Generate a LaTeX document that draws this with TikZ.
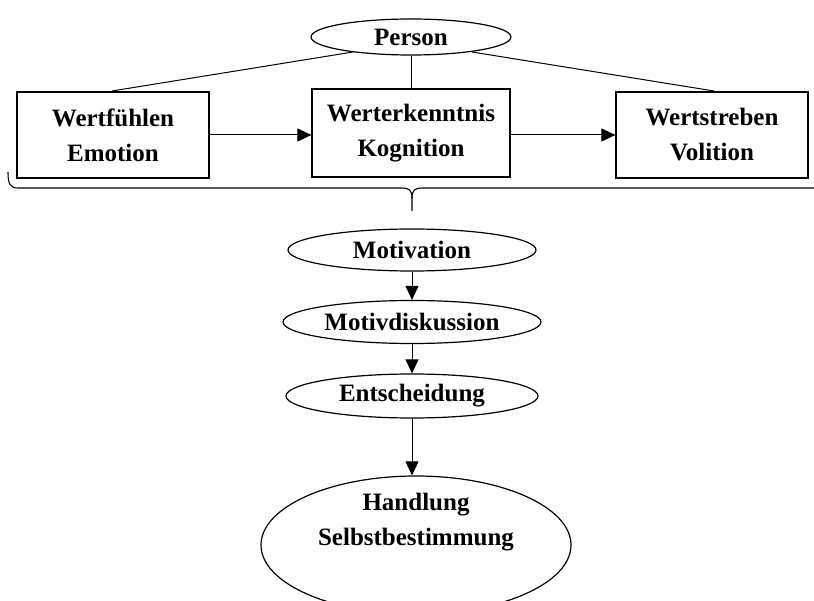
\documentclass[tikz,border=0pt]{standalone}
\usepackage{fontspec}
\setmainfont{Liberation Serif}
\usetikzlibrary{shapes.geometric,arrows.meta}
\begin{document}
\begin{tikzpicture}[x=1pt,y=-1pt,
  every node/.style={font=\bfseries\fontsize{25}{35}\selectfont, align=center, line width=1.2pt},
  oval/.style={draw, ellipse, inner sep=0pt},
  box/.style={draw, rectangle, inner sep=0pt},
  conn/.style={line width=1pt},
  arr/.style={line width=1pt, -{Triangle[length=14pt,width=13pt]}}]
\useasboundingbox (0,0) rectangle (814,601);
\node[oval, minimum width=200pt, minimum height=36pt] (person) at (411,37) {Person};
\node[box, minimum width=192pt, minimum height=86pt] (wf) at (113,135) {Wertfühlen\\Emotion};
\node[box, minimum width=198pt, minimum height=88pt] (we) at (411,133) {Werterkenntnis\\Kognition};
\node[box, minimum width=192pt, minimum height=86pt] (ws) at (712,135) {Wertstreben\\Volition};
\coordinate (wfTop) at (112,91);
\coordinate (wsTop) at (714,91);
\coordinate (pL) at (353,52);
\coordinate (pR) at (472,52);
\draw[conn] (pL) -- (wfTop);
\draw[conn] (person.south) -- (we.north);
\draw[conn] (pR) -- (wsTop);
\draw[arr] (wf.east) -- (wf.east -| we.west);
\draw[arr] (we.east |- ws.west) -- (ws.west);
% brace
\coordinate (brL) at (8,172);
\coordinate (brTip) at (412,211);
\coordinate (brR) at (814,188);
\draw[line width=1.1pt] (brL) .. controls (8,184) and (10,188) .. (18,188) -- (402,188)
  .. controls (409,188) and (412,190) .. (412,198) -- (brTip);
\draw[line width=1.1pt] (412,198) .. controls (412,190) and (415,188) .. (422,188) -- (brR);
\node[oval, minimum width=248pt, minimum height=42pt] (mot) at (412,250) {Motivation};
\node[oval, minimum width=258pt, minimum height=43pt] (md) at (412,322) {Motivdiskussion};
\node[oval, minimum width=252pt, minimum height=44pt] (ent) at (412,396) {Entscheidung};
\node[oval, minimum width=310pt, minimum height=138pt] (hand) at (416,545) {};
\node (handtext) at (416,522) {Handlung\\Selbstbestimmung};
\draw[arr] (mot) -- (md);
\draw[arr] (md) -- (ent);
\draw[arr] (ent) -- (ent.south |- hand.north);
\end{tikzpicture}
\end{document}
